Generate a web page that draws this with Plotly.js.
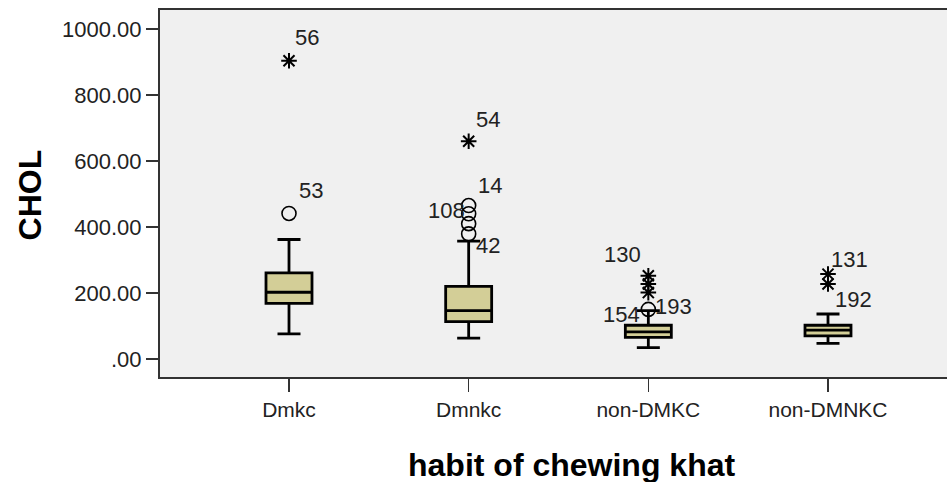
<!DOCTYPE html>
<html>
<head>
<meta charset="utf-8">
<script src="https://cdn.plot.ly/plotly-3.0.1.min.js"></script>
<style>
html,body{margin:0;padding:0;overflow:hidden;background:#ffffff;width:947px;height:482px;}
#chart{width:970px;height:482px;}
</style>
</head>
<body>
<div id="chart"></div>
<script>
// ---- data ----
var categories = ["Dmkc", "Dmnkc", "non-DMKC", "non-DMNKC"];
var lowerWhisker = [76, 63, 34, 47];
var q1 = [168, 113, 65, 70];
var medians = [202, 146, 82, 87];
var q3 = [261, 220, 102, 102];
var upperWhisker = [362, 357, 146, 136];

// outliers (circles) and extremes (stars)
var circleCats = ["Dmkc", "Dmnkc", "Dmnkc", "Dmnkc", "Dmnkc", "non-DMKC"];
var circleVals = [441, 465, 440, 410, 379, 150];
var circleIds = ["53", "14", "108", "", "42", "154|193"];

var starCats = ["Dmkc", "Dmnkc", "non-DMKC", "non-DMKC", "non-DMKC", "non-DMNKC", "non-DMNKC"];
var starVals = [904, 660, 252, 227, 201, 257, 227];
var starIds = ["56", "54", "130", "", "", "131", "192"];

var yTickVals = [0, 200, 400, 600, 800, 1000];
var yTickText = [".00", "200.00", "400.00", "600.00", "800.00", "1000.00"];

// ---- label offsets (style, px: right, down) ----
var circleOffsets = {"53": [22, -23], "14": [21, -20], "108": [-22, -3], "42": [19, 12]};
var splitOffsets = {"154": [-27, 5], "193": [25, -3]};
var starOffsets = {"56": [18, -23], "54": [19, -22], "130": [-26, -21], "131": [21, -15], "192": [25, 15]};

var traces = [];
traces.push({
  type: "box",
  x: categories,
  q1: q1, median: medians, q3: q3,
  lowerfence: lowerWhisker, upperfence: upperWhisker,
  boxpoints: false,
  width: 0.256,
  whiskerwidth: 0.5,
  fillcolor: "#d3ce97",
  line: {color: "#000000", width: 2.8},
  hoverinfo: "skip",
  showlegend: false
});
traces.push({
  type: "scatter", mode: "markers",
  x: circleCats, y: circleVals,
  marker: {symbol: "circle-open", size: 14, color: "#000000", line: {width: 1.6, color: "#000000"}},
  showlegend: false, hoverinfo: "skip"
});
traces.push({
  type: "scatter", mode: "markers",
  x: starCats, y: starVals,
  marker: {symbol: "asterisk-open", size: 13, color: "#000000", line: {width: 2, color: "#000000"}},
  showlegend: false, hoverinfo: "skip"
});

var labelFont = {family: "Liberation Sans, Arial, sans-serif", size: 22, color: "#222222"};
var annotations = [];
function addLabel(cat, val, txt, off) {
  annotations.push({
    x: cat, y: val, xref: "x", yref: "y", text: txt, showarrow: false,
    xanchor: "center", yanchor: "middle",
    xshift: off[0], yshift: -off[1], font: labelFont
  });
}
circleIds.forEach(function (id, i) {
  if (!id) return;
  if (id.indexOf("|") >= 0) {
    id.split("|").forEach(function (p) { addLabel(circleCats[i], circleVals[i], p, splitOffsets[p]); });
  } else {
    addLabel(circleCats[i], circleVals[i], id, circleOffsets[id]);
  }
});
starIds.forEach(function (id, i) {
  if (!id) return;
  addLabel(starCats[i], starVals[i], id, starOffsets[id]);
});

// axis titles
annotations.push({
  xref: "paper", yref: "paper", x: 0.516, y: 0, xanchor: "center", yanchor: "middle", yshift: -88,
  text: "<b>habit of chewing khat</b>", showarrow: false,
  font: {family: "Liberation Sans, Arial, sans-serif", size: 32, color: "#000000"}
});
annotations.push({
  xref: "paper", yref: "paper", x: -0.163, y: 0.495, xanchor: "center", yanchor: "middle",
  text: "<b>CHOL</b>", textangle: -90, showarrow: false,
  font: {family: "Liberation Sans, Arial, sans-serif", size: 32, color: "#000000"}
});

var layout = {
  width: 970, height: 482,
  margin: {l: 160, r: 13, t: 10, b: 105},
  paper_bgcolor: "#ffffff",
  plot_bgcolor: "#f0f0f0",
  showlegend: false,
  xaxis: {
    type: "category",
    categoryarray: categories,
    range: [-0.718, 3.718],
    showgrid: false, zeroline: false,
    showline: true, mirror: true, linecolor: "#333333", linewidth: 2,
    ticks: "outside", ticklen: 13, tickwidth: 1.5, tickcolor: "#333333",
    tickfont: {family: "Liberation Sans Narrow, Liberation Sans, Arial, sans-serif", size: 21, color: "#222222"}
  },
  yaxis: {
    range: [-55, 1058],
    tickvals: yTickVals, ticktext: yTickText,
    showgrid: false, zeroline: false,
    showline: true, mirror: true, linecolor: "#333333", linewidth: 2,
    ticks: "outside", ticklen: 12, tickwidth: 2, tickcolor: "#333333",
    tickfont: {family: "Liberation Sans, Arial, sans-serif", size: 22, color: "#222222"}
  },
  annotations: annotations
};

Plotly.newPlot("chart", traces, layout, {displayModeBar: false, staticPlot: true});
</script>
</body>
</html>
